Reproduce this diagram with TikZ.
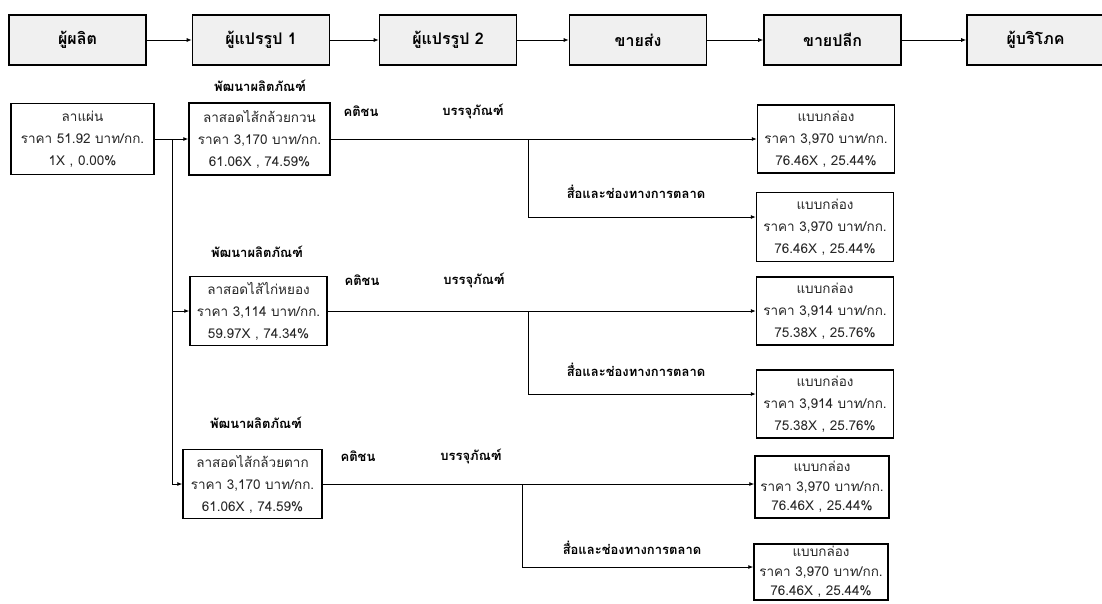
\documentclass[tikz,border=0pt]{standalone}
\usepackage{fontspec}
\newfontfamily\thaifont[Script=Thai]{Loma}
\usetikzlibrary{arrows.meta,positioning,calc}

\begin{document}
\begin{tikzpicture}[x=1pt,y=-1pt,>={Latex[length=5pt,width=4pt]},
  stage/.style={draw,line width=1.6pt,fill=gray!12,minimum width=137pt,minimum height=50pt,font=\thaifont\bfseries\fontsize{16}{19}\selectfont},
  info/.style={draw,line width=1.5pt,minimum width=137pt,minimum height=69pt,align=center,inner sep=1pt,text=black!85,font=\thaifont\fontsize{13.5}{22}\selectfont},
  tight/.style={font=\thaifont\fontsize{13.5}{19.5}\selectfont},
  tag/.style={font=\thaifont\bfseries\fontsize{13}{15}\selectfont},
  link/.style={line width=0.8pt}]
\useasboundingbox (0,0) rectangle (1102,603);

% supply chain stages
\node[stage] (prod) at (77.5,40) {ผู้ผลิต};
\node[stage] (proc1) at (261,40) {ผู้แปรรูป 1};
\node[stage] (proc2) at (448,40) {ผู้แปรรูป 2};
\node[stage] (whole) at (638,40) {ขายส่ง};
\node[stage] (retail) at (832.5,40) {ขายปลีก};
\node[stage] (cons) at (1035.5,40) {ผู้บริโภค};
\foreach \a/\b in {prod/proc1,proc1/proc2,proc2/whole,whole/retail,retail/cons}
  \draw[link,->] (\a) -- (\b);

% raw material
\node[info,minimum width=143pt,minimum height=71pt] (sheet) at (82.5,139) {ลาแผ่น\\ราคา 51.92 บาท/กก.\\1X , 0.00\%};

% row 1
\node[tag] (dev1) at (260,86) {พัฒนาผลิตภัณฑ์};
\node[info,minimum width=141pt,minimum height=72pt] (kuan) at (259.5,139) {ลาสอดไส้กล้วยกวน\\ราคา 3,170 บาท/กก.\\61.06X , 74.59\%};
\node[tag] (folk1) at (361,111) {คติชน};
\node[tag] (pack1) at (473,111) {บรรจุภัณฑ์};
\node[tag] (media1) at (636,192) {สื่อและช่องทางการตลาด};
\node[info,minimum height=68pt] (kuanbox) at (826,139) {แบบกล่อง\\ราคา 3,970 บาท/กก.\\76.46X , 25.44\%};
\node[info] (kuanmkt) at (825,227) {แบบกล่อง\\ราคา 3,970 บาท/กก.\\76.46X , 25.44\%};

% row 2
\node[tag] (dev2) at (257,252) {พัฒนาผลิตภัณฑ์};
\node[info] (yong) at (258.5,311) {ลาสอดไส้ไก่หยอง\\ราคา 3,114 บาท/กก.\\59.97X , 74.34\%};
\node[tag] (folk2) at (362,280) {คติชน};
\node[tag] (pack2) at (474,280) {บรรจุภัณฑ์};
\node[tag] (media2) at (636,370) {สื่อและช่องทางการตลาด};
\node[info,minimum height=68pt] (yongbox) at (825,311) {แบบกล่อง\\ราคา 3,914 บาท/กก.\\75.38X , 25.76\%};
\node[info,minimum height=68pt] (yongmkt) at (825,404) {แบบกล่อง\\ราคา 3,914 บาท/กก.\\75.38X , 25.76\%};

% row 3
\node[tag] (dev3) at (256,423) {พัฒนาผลิตภัณฑ์};
\node[info,minimum width=139pt] (tak) at (252.5,484) {ลาสอดไส้กล้วยตาก\\ราคา 3,170 บาท/กก.\\61.06X , 74.59\%};
\node[tag] (folk3) at (358,456) {คติชน};
\node[tag] (pack3) at (471,456) {บรรจุภัณฑ์};
\node[tag] (media3) at (632,548) {สื่อและช่องทางการตลาด};
\node[info,tight,minimum width=134pt,minimum height=62pt] (takbox) at (822,487) {แบบกล่อง\\ราคา 3,970 บาท/กก.\\76.46X , 25.44\%};
\node[info,tight,minimum width=134pt,minimum height=56pt] (takmkt) at (821,572) {แบบกล่อง\\ราคา 3,970 บาท/กก.\\76.46X , 25.44\%};

% connectors
\draw[link,->] (sheet) -- (kuan);
\coordinate (trunk) at (172,139);
\draw[link,->] (trunk) |- (yong);
\draw[link,->] (trunk) |- (tak);

\draw[link,->] (kuan) -- (kuanbox);
\coordinate (fork1) at (528,139);
\draw[link,->] (fork1) |- ([yshift=10pt]kuanmkt.west);

\draw[link,->] (yong) -- (yongbox);
\coordinate (fork2) at (528,311);
\draw[link,->] (fork2) |- ([yshift=10pt]yongmkt.west);

\draw[link,->] (tak) -- (tak -| takbox.west);
\coordinate (fork3) at (522,484);
\draw[link,->] (fork3) |- ([yshift=5pt]takmkt.west);
\end{tikzpicture}
\end{document}
